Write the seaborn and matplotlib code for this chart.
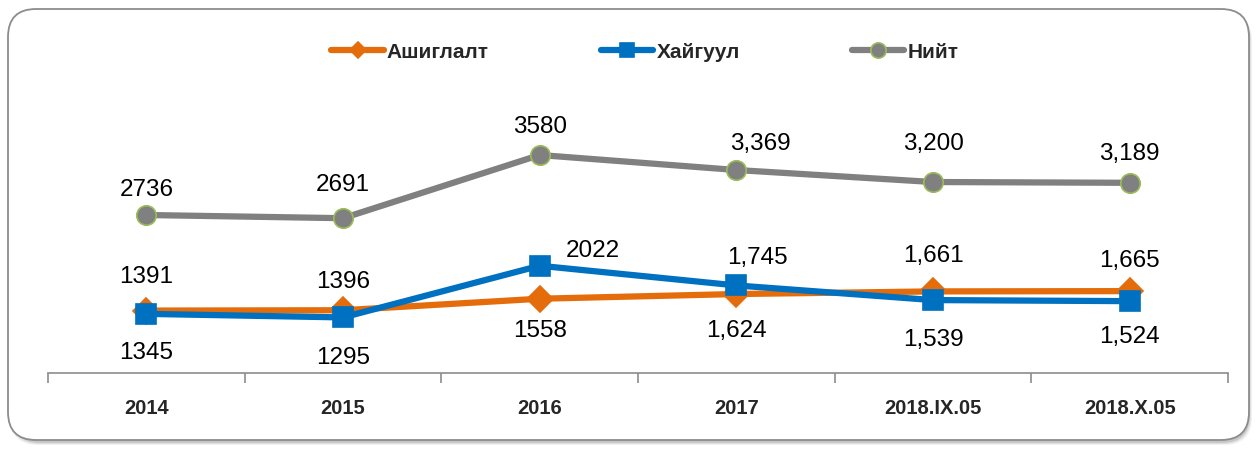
import numpy as np
import pandas as pd
import matplotlib
matplotlib.use("Agg")
import matplotlib.pyplot as plt
import seaborn as sns
from matplotlib.patches import FancyBboxPatch
from matplotlib.transforms import IdentityTransform

# data
categories = ["2014", "2015", "2016", "2017", "2018.IX.05", "2018.X.05"]
ashiglalt = [1391, 1396, 1558, 1624, 1661, 1665]
haiguul = [1345, 1295, 2022, 1745, 1539, 1524]
niit = [2736, 2691, 3580, 3369, 3200, 3189]

label_ashiglalt = ["1391", "1396", "1558", "1,624", "1,661", "1,665"]
label_haiguul = ["1345", "1295", "2022", "1,745", "1,539", "1,524"]
label_niit = ["2736", "2691", "3580", "3,369", "3,200", "3,189"]

# label offsets in pixels (dx, dy), dy positive = up
off_ashiglalt = [(0, 34), (0, 28), (0, -32), (0, -37), (0, 35), (0, 30)]
off_haiguul = [(0, -39), (0, -41), (53, 15), (21, 27), (0, -40), (0, -36)]
off_niit = [(0, 25), (0, 33), (0, 28), (24, 26), (0, 38), (0, 29)]

df = pd.DataFrame({
    "pos": np.arange(len(categories)),
    "Ашиглалт": ashiglalt,
    "Хайгуул": haiguul,
    "Нийт": niit,
})

sns.set_style("white")
plt.rcParams["font.family"] = ["Liberation Sans", "DejaVu Sans"]

W, H = 1259, 449
fig = plt.figure(figsize=(W / 100, H / 100), dpi=100)

# rounded frame with a soft shadow
for i, a in enumerate([0.10, 0.15, 0.25]):
    sh = FancyBboxPatch((10 + i, 4 + i), 1242 - 2 * i, 432,
                        boxstyle="round,pad=0,rounding_size=28",
                        transform=IdentityTransform(), facecolor="#7f7f7f",
                        edgecolor="none", alpha=a, zorder=0)
    fig.patches.append(sh)
frame = FancyBboxPatch((8, 9), 1241, 431,
                       boxstyle="round,pad=0,rounding_size=28",
                       transform=IdentityTransform(), facecolor="white",
                       edgecolor="#8c8c8c", linewidth=1.3, zorder=1)
fig.patches.append(frame)

ax = fig.add_axes([48 / W, 1 - 373 / H, 1180 / W, 273 / H])
ax.set_facecolor("none")
ax.set_zorder(2)

styles = [
    ("Ашиглалт", "#E46C0A", "D", 13, "#E46C0A", label_ashiglalt, off_ashiglalt, 8),
    ("Хайгуул", "#0070C0", "s", 15, "#0070C0", label_haiguul, off_haiguul, 10),
    ("Нийт", "#808080", "o", 14, "#9BBB59", label_niit, off_niit, 11),
]

for name, color, marker, ms, mec, labels, offs, _ in styles:
    sns.lineplot(data=df, x="pos", y=name, ax=ax, color=color, linewidth=4.5,
                 marker=marker, markersize=ms, markeredgecolor=mec,
                 markeredgewidth=1.2, label=name)
    for x, y, txt, (dx, dy) in zip(df["pos"], df[name], labels, offs):
        ax.annotate(txt, (x, y), xytext=(dx, dy), textcoords="offset pixels",
                    ha="center", va="center", fontsize=17.5, color="black")

ax.set_xlim(-0.5, len(categories) - 0.5)
ax.set_ylim(513, 4354)
ax.set_xticks(df["pos"])
ax.set_xticklabels(categories, fontsize=14.5, fontweight="bold")
ax.set_xticks(np.arange(-0.5, len(categories)), minor=True)
ax.tick_params(axis="x", which="major", length=0, pad=19)
ax.tick_params(axis="x", which="minor", bottom=True, length=7,
               color="#8c8c8c", width=1.2, direction="out")
ax.set_yticks([])
ax.set_xlabel("")
ax.set_ylabel("")
for s in ["top", "right", "left"]:
    ax.spines[s].set_visible(False)
ax.spines["bottom"].set_color("#8c8c8c")
ax.spines["bottom"].set_linewidth(1.2)

leg = ax.legend(loc="center", bbox_to_anchor=(645 / W, 1 - 52 / H),
                bbox_transform=fig.transFigure, ncol=3, frameon=False,
                handlelength=2.5, handletextpad=0.15, columnspacing=5.4,
                prop={"weight": "bold", "size": 15})
for h, st in zip(leg.legend_handles, styles):
    h.set_markersize(st[7])

fig.savefig("out.png", dpi=100)
